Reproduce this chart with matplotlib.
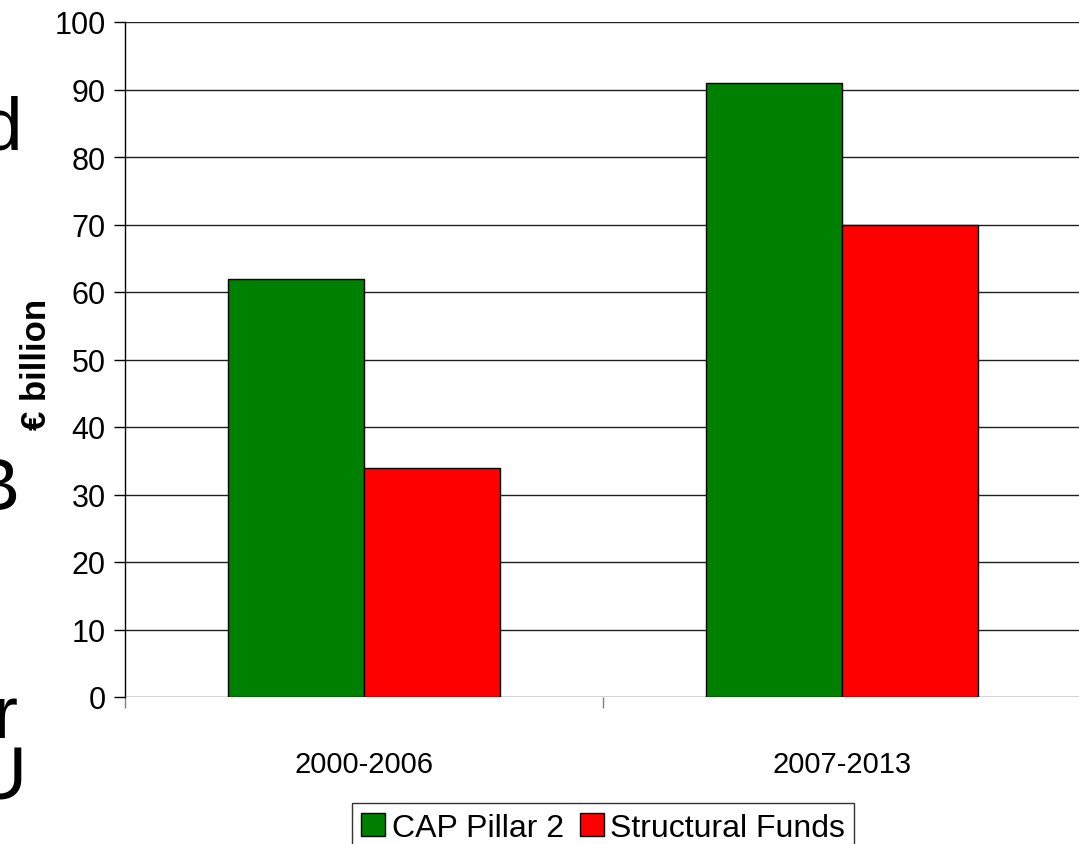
import matplotlib
matplotlib.use("Agg")
import matplotlib.pyplot as plt
from matplotlib.patches import Patch
import numpy as np

periods = ["2000-2006", "2007-2013"]
cap_pillar2 = [62, 91]
structural_funds = [34, 70]
series_names = ["CAP Pillar 2", "Structural Funds"]
colors = ["#008000", "#ff0000"]
yticks = list(range(0, 101, 10))

plt.rcParams["font.family"] = ["Liberation Sans Narrow", "Liberation Sans", "DejaVu Sans"]

W, H = 1079, 845
fig = plt.figure(figsize=(W / 100, H / 100), dpi=100)
ax = fig.add_axes([125 / W, 1 - 698 / H, (1081 - 125) / W, (698 - 23) / H])

centers = np.arange(len(periods)) + 0.5
bw = 0.2845
ax.bar(centers - bw / 2, cap_pillar2, bw, color=colors[0], edgecolor="black", linewidth=1, zorder=3)
ax.bar(centers + bw / 2, structural_funds, bw, color=colors[1], edgecolor="black", linewidth=1, zorder=3)

ax.set_xlim(0, len(periods))
ax.set_ylim(0, 100)
ax.set_yticks(yticks)
ax.yaxis.grid(True, color="#202020", linewidth=1)
ax.set_axisbelow(True)
for s in ["top", "right", "bottom"]:
    ax.spines[s].set_visible(False)
ax.spines["left"].set_linewidth(1)
ax.tick_params(axis="y", direction="out", length=8, width=1, labelsize=22, pad=6)

ax.set_xticks(np.arange(len(periods) + 1))
ax.set_xticklabels([])
ax.tick_params(axis="x", which="major", direction="out", length=8, width=1, color="#808080")
ax.set_xticks(centers, minor=True)
ax.set_xticklabels(periods, minor=True)
ax.tick_params(axis="x", which="minor", length=0, labelsize=21, pad=38)

fig.text(36 / W, 1 - 364 / H, "€ billion", rotation=90, ha="center", va="center",
         fontsize=25, fontweight="bold", family=["Liberation Sans", "DejaVu Sans"])

handles = [Patch(facecolor=c, edgecolor="black", linewidth=1) for c in colors]
leg = fig.legend(handles, series_names, loc="lower center", bbox_to_anchor=(603 / W, -0.01),
                 ncol=2, fontsize=23, frameon=True, fancybox=False, edgecolor="black",
                 handlelength=0.75, handleheight=0.75, handletextpad=0.2, columnspacing=0.5,
                 borderpad=0.3, borderaxespad=0)
leg.get_frame().set_linewidth(1)

# clipped slide text at the left edge
for ch, xr, yb in [("d", 22, 150), ("B", 20, 510), ("r", 18, 738), ("U", 26, 800)]:
    fig.text(xr / W, 1 - yb / H, ch, ha="right", va="baseline", fontsize=54,
             family=["Liberation Sans", "DejaVu Sans"])

fig.savefig("out.png", dpi=100)
